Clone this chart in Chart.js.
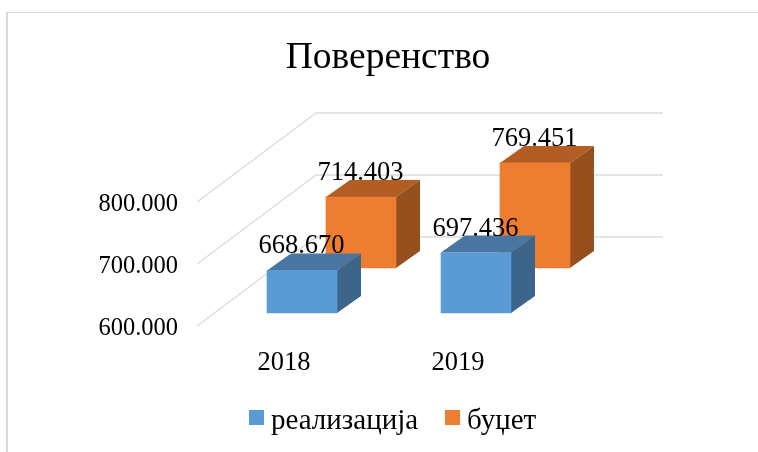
<!DOCTYPE html>
<html>
<head>
<meta charset="utf-8">
<style>
html, body { margin: 0; padding: 0; background: #fff; }
canvas { display: block; }
</style>
<script src="https://cdn.jsdelivr.net/npm/chart.js@4/dist/chart.umd.min.js"></script>
</head>
<body>
<canvas id="chart" width="758" height="452"></canvas>
<script>
// Chart data
const years = ['2018', '2019'];
const realizacija = [668670, 697436];
const budzet = [714403, 769451];
const titleText = 'Поверенство';
const seriesNames = ['реализација', 'буџет'];
const axisMin = 600000;

const serif = '"Liberation Serif", serif';
const fmt = v => v.toLocaleString('de-DE');

// how far each row of bars sits into the floor, and the bar's own depth
const rows = [{ dx: 18, dy: -13, top: '#4a77a2', side: '#3c6589' },
              { dx: 77, dy: -58, top: '#b15d24', side: '#96501e' }];
const depth = { dx: 24, dy: -17 };
const wall = { dx: 119, dy: -89, right: 663 };

const fake3d = {
    id: 'fake3d',
    afterLayout(chart) {
        // title is centred a bit right of the canvas
        chart.titleBlock.left = 18;
        chart.titleBlock.right = 758;
    },
    beforeDraw(chart) {
        const ctx = chart.ctx;
        ctx.save();
        ctx.fillStyle = '#d9d9d9';
        ctx.fillRect(6, 12, 2, 440);
        ctx.fillRect(6, 12, 752, 1);
        ctx.restore();
    },
    beforeDatasetsDraw(chart) {
        const ctx = chart.ctx, y = chart.scales.y, left = chart.chartArea.left;
        ctx.save();
        ctx.strokeStyle = '#dcdcdc';
        ctx.lineWidth = 1.5;
        y.ticks.forEach(t => {
            const py = y.getPixelForValue(t.value);
            ctx.beginPath();
            ctx.moveTo(left, py);
            ctx.lineTo(left + wall.dx, py + wall.dy);
            ctx.lineTo(wall.right, py + wall.dy);
            ctx.stroke();
        });
        ctx.restore();
    },
    beforeDatasetDraw(chart, args) {
        const ctx = chart.ctx, row = rows[args.index];
        ctx.save();
        ctx.translate(row.dx, row.dy);
        args.meta.data.forEach(bar => {
            const l = bar.x - bar.width / 2, r = bar.x + bar.width / 2;
            ctx.fillStyle = row.top;
            ctx.beginPath();
            ctx.moveTo(l, bar.y);
            ctx.lineTo(l + depth.dx, bar.y + depth.dy);
            ctx.lineTo(r + depth.dx, bar.y + depth.dy);
            ctx.lineTo(r, bar.y);
            ctx.fill();
            ctx.fillStyle = row.side;
            ctx.beginPath();
            ctx.moveTo(r, bar.y);
            ctx.lineTo(r + depth.dx, bar.y + depth.dy);
            ctx.lineTo(r + depth.dx, bar.base + depth.dy);
            ctx.lineTo(r, bar.base);
            ctx.fill();
        });
    },
    afterDatasetDraw(chart) {
        chart.ctx.restore();
    },
    afterDatasetsDraw(chart) {
        const ctx = chart.ctx;
        ctx.save();
        ctx.fillStyle = '#000';
        ctx.font = '26.5px ' + serif;
        ctx.textAlign = 'center';
        ctx.textBaseline = 'middle';
        chart.data.datasets.forEach((ds, i) => {
            chart.getDatasetMeta(i).data.forEach((bar, j) => {
                ctx.fillText(fmt(ds.data[j]), bar.x + rows[i].dx - 0.5, bar.y + rows[i].dy - 24);
            });
        });
        // legend
        const boxX = [249, 445], textX = [271, 467];
        ctx.font = '29px ' + serif;
        ctx.textAlign = 'left';
        chart.data.datasets.forEach((ds, i) => {
            ctx.fillStyle = ds.backgroundColor;
            ctx.fillRect(boxX[i], 410, 15, 15);
            ctx.fillStyle = '#000';
            ctx.fillText(ds.label, textX[i], 421);
        });
        ctx.restore();
    }
};

const ctx = document.getElementById('chart').getContext('2d');
const chart = new Chart(ctx, {
    type: 'bar',
    data: {
        labels: years,
        datasets: [{
            label: seriesNames[0],
            data: realizacija,
            backgroundColor: '#5b9bd5',
            base: axisMin,
            order: 1,
            clip: false
        }, {
            label: seriesNames[1],
            data: budzet,
            backgroundColor: '#ed7d31',
            base: axisMin,
            order: 2,
            clip: false
        }]
    },
    plugins: [fake3d],
    options: {
        responsive: false,
        animation: false,
        grouped: false,
        barThickness: 70,
        layout: { padding: { left: 0, right: 213, top: 0, bottom: 66 } },
        plugins: {
            legend: { display: false },
            tooltip: { enabled: false },
            title: {
                display: true,
                text: titleText,
                color: '#000',
                font: { family: serif, size: 37.5, weight: 'normal', lineHeight: 1.2 },
                padding: { top: 36, bottom: 121 }
            }
        },
        scales: {
            x: {
                grid: { display: false },
                border: { display: false },
                ticks: { color: '#000', font: { family: serif, size: 26.5 }, padding: 13 },
                afterFit(scale) { scale.height = 60; }
            },
            y: {
                min: axisMin,
                max: 800000,
                grid: { display: false },
                border: { display: false },
                ticks: {
                    stepSize: 100000,
                    color: '#000',
                    font: { family: serif, size: 24.5 },
                    padding: 11,
                    labelOffset: 3,
                    callback: v => fmt(v)
                },
                afterFit(scale) { scale.width = 197; }
            }
        }
    }
});
</script>
</body>
</html>
